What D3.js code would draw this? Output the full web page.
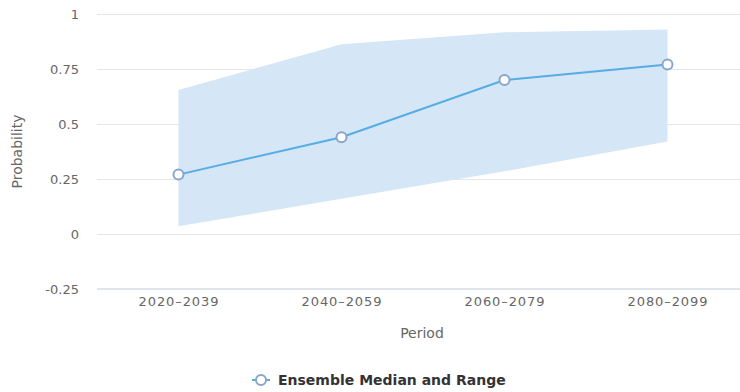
<!DOCTYPE html>
<html><head><meta charset="utf-8">
<script src="https://cdn.jsdelivr.net/npm/d3@7"></script>
<style>body{margin:0;background:#fff}svg{display:block}</style>
</head><body><svg id="c" width="740" height="392"></svg>
<script>
const categories = ["2020–2039","2040–2059","2060–2079","2080–2099"];
const median = [0.27, 0.44, 0.70, 0.77];
const rangeLow = [0.035, 0.16, 0.285, 0.42];
const rangeHigh = [0.655, 0.862, 0.917, 0.93];
const yTicks = [-0.25, 0, 0.25, 0.5, 0.75, 1];
const yTickLabels = ["-0.25","0","0.25","0.5","0.75","1"];

const svg = d3.select("#c");
const font = "DejaVu Sans, sans-serif";
const pLeft = 97, pRight = 749, pTop = 14, pBottom = 289;
const x = d3.scalePoint().domain(categories).range([pLeft, pRight]).padding(0.5);
const y = d3.scaleLinear().domain([-0.25, 1]).range([pBottom, pTop]);

// grid
svg.append("g").selectAll("line").data(yTicks.filter(d => d !== -0.25)).join("line")
  .attr("x1", pLeft).attr("x2", 740).attr("y1", d => y(d)).attr("y2", d => y(d))
  .attr("stroke", "#e6e6e6").attr("stroke-width", 1).attr("shape-rendering","crispEdges");
svg.append("line").attr("x1", pLeft).attr("x2", 740).attr("y1", y(-0.25)).attr("y2", y(-0.25))
  .attr("stroke", "#e1e4e9").attr("stroke-width", 2);

// y labels
const ya = d3.axisLeft(y).tickValues(yTicks).tickFormat((d,i) => yTickLabels[i]).tickSize(0).tickPadding(0);
const yg = svg.append("g").attr("transform", `translate(79,0)`).call(ya);
yg.select(".domain").remove();
yg.selectAll("text").attr("font-family", font).attr("font-size", 13).attr("fill", "#666");

// x labels
const xa = d3.axisBottom(x).tickSize(0).tickPadding(0);
const xg = svg.append("g").attr("transform", `translate(0,${pBottom+8})`).call(xa);
xg.select(".domain").remove();
xg.selectAll("text").attr("font-family", font).attr("font-size", 13).attr("fill", "#666").attr("letter-spacing", "0.9px");

// titles
svg.append("text").attr("x", 422).attr("y", 338).attr("text-anchor","middle")
  .attr("font-family", font).attr("font-size", 14).attr("fill", "#666").text("Period");
svg.append("text").attr("transform", `translate(22,${(pTop+pBottom)/2}) rotate(-90)`).attr("text-anchor","middle")
  .attr("font-family", font).attr("font-size", 14).attr("fill", "#666").text("Probability");

// area
const area = d3.area().x((d,i) => x(categories[i])).y0((d,i) => y(rangeLow[i])).y1((d,i) => y(rangeHigh[i]));
svg.append("path").datum(median).attr("d", area).attr("fill", "#d5e6f7");

// line
const line = d3.line().x((d,i) => x(categories[i])).y(d => y(d));
svg.append("path").datum(median).attr("d", line).attr("fill","none").attr("stroke","#55ade3").attr("stroke-width",2);
svg.append("g").selectAll("circle").data(median).join("circle")
  .attr("cx", (d,i) => x(categories[i])).attr("cy", d => y(d)).attr("r", 5)
  .attr("fill", "#fff").attr("stroke", "#8aa4cc").attr("stroke-width", 2);

// legend
const lg = svg.append("g").attr("transform", "translate(0,380)");
lg.append("line").attr("x1", 252).attr("x2", 270).attr("y1", 0).attr("y2", 0).attr("stroke","#55ade3").attr("stroke-width",2);
lg.append("circle").attr("cx", 261).attr("cy", 0).attr("r", 5).attr("fill","#fff").attr("stroke","#8aa4cc").attr("stroke-width",2);
lg.append("text").attr("x", 278).attr("y", 5).attr("font-family", font).attr("font-size", 14).attr("font-weight","bold")
  .attr("fill", "#333").text("Ensemble Median and Range");
</script></body></html>
